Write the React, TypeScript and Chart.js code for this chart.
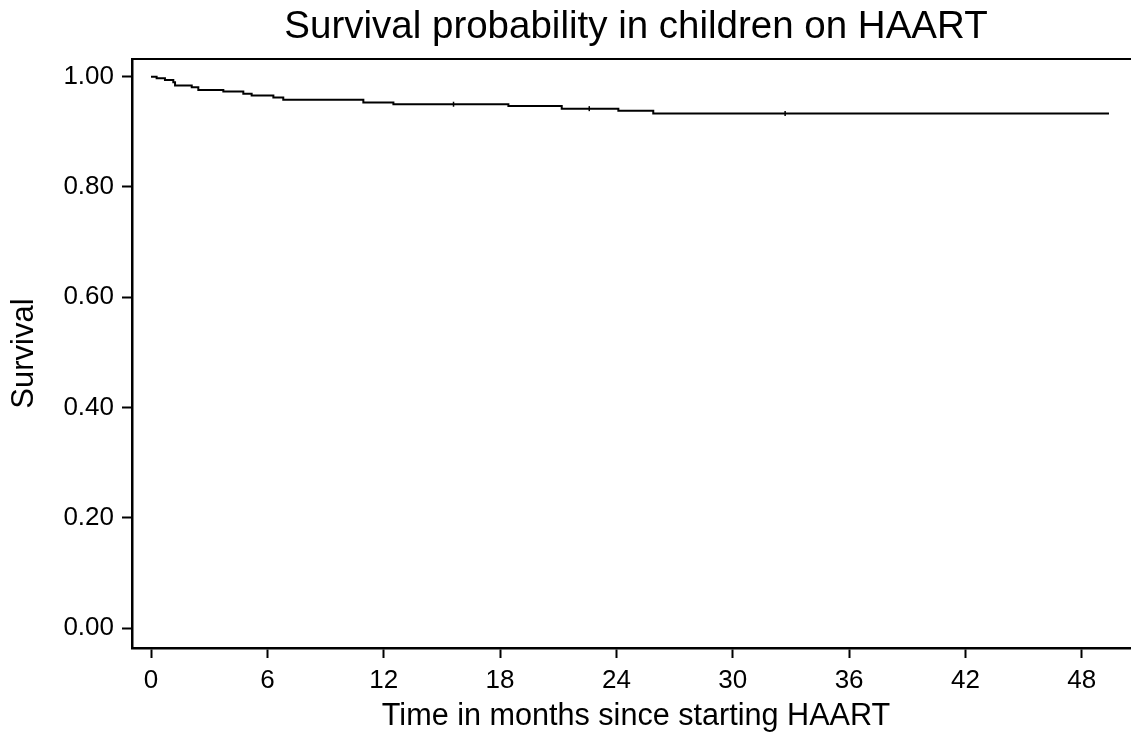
import React, { useEffect, useRef } from "react";
import { Chart, registerables } from "chart.js";

Chart.register(...registerables);

// Kaplan-Meier step points: time (months) and survival after the event at that time
const times = [0, 0.29, 0.72, 1.15, 1.24, 2.1, 2.44, 3.73, 4.76, 5.19, 6.31, 6.82, 10.95, 12.5, 18.43, 21.18, 24.1, 25.9, 49.4];
const survival = [1.0, 0.997, 0.994, 0.99, 0.984, 0.981, 0.976, 0.973, 0.969, 0.966, 0.962, 0.958, 0.953, 0.95, 0.947, 0.942, 0.938, 0.933, 0.933];

// Censoring marks
const censorTimes = [15.6, 22.6, 32.7];
const censorSurvival = [0.95, 0.942, 0.933];

const xTicks = [0, 6, 12, 18, 24, 30, 36, 42, 48];
const yTicks = [0, 0.2, 0.4, 0.6, 0.8, 1.0];

const titleText = "Survival probability in children on HAART";
const xTitle = "Time in months since starting HAART";
const yTitle = "Survival";

const X_MIN = -0.98;
const X_MAX = 51.0;
const Y_MIN = -0.0357;
const Y_MAX = 1.032;

export default function App() {
  const ref = useRef<HTMLCanvasElement | null>(null);

  useEffect(() => {
    document.body.style.margin = "0";
    const canvas = ref.current;
    if (!canvas) return;
    Chart.defaults.font.family = "'Liberation Sans', Arial, sans-serif";
    Chart.defaults.color = "#000";

    const noPadX = (s: any, h: number) => {
      s.height = h;
      s.paddingLeft = 0;
      s.paddingRight = 0;
    };

    const chart = new Chart(canvas, {
      type: "line",
      data: {
        datasets: [
          {
            type: "line",
            data: times.map((t, i) => ({ x: t, y: survival[i] })),
            stepped: true,
            borderColor: "#000",
            borderWidth: 2,
            pointRadius: 0,
            fill: false,
          },
          {
            type: "scatter",
            data: censorTimes.map((t, i) => ({ x: t, y: censorSurvival[i] })),
            pointStyle: "line",
            rotation: 90,
            pointRadius: 2.5,
            borderColor: "#000",
            borderWidth: 1.5,
          } as any,
        ],
      },
      options: {
        animation: false,
        responsive: false,
        maintainAspectRatio: false,
        layout: { autoPadding: false, padding: 0 },
        plugins: {
          legend: { display: false },
          tooltip: { enabled: false },
          title: {
            display: true,
            text: titleText,
            fullSize: false,
            color: "#000",
            font: { size: 38.5, weight: "normal" },
            padding: { top: 4, bottom: 8.8 },
          },
        },
        scales: {
          x: {
            type: "linear",
            position: "bottom",
            min: X_MIN,
            max: X_MAX,
            afterBuildTicks: (s: any) => {
              s.ticks = xTicks.map((v) => ({ value: v }));
            },
            afterFit: (s: any) => noPadX(s, 88),
            ticks: {
              color: "#000",
              font: { size: 26 },
              padding: 7,
              maxRotation: 0,
              autoSkip: false,
              callback: (v: any) => String(v),
            },
            grid: {
              display: true,
              drawOnChartArea: false,
              drawTicks: true,
              tickLength: 10,
              tickWidth: 2,
              tickColor: "#000",
            },
            border: { display: true, color: "#000", width: 2.5 },
            title: {
              display: true,
              text: xTitle,
              color: "#000",
              font: { size: 30.6 },
              padding: { top: 0, bottom: 1 },
            },
          },
          xTop: {
            type: "linear",
            position: "top",
            min: X_MIN,
            max: X_MAX,
            afterFit: (s: any) => noPadX(s, 0),
            ticks: { display: false },
            grid: { display: false, drawTicks: false },
            border: { display: true, color: "#000", width: 2 },
          },
          y: {
            type: "linear",
            position: "left",
            min: Y_MIN,
            max: Y_MAX,
            afterBuildTicks: (s: any) => {
              s.ticks = yTicks.map((v) => ({ value: v }));
            },
            afterFit: (s: any) => {
              s.width = 132;
              s.paddingTop = 0;
              s.paddingBottom = 0;
            },
            ticks: {
              color: "#000",
              font: { size: 26 },
              padding: 8,
              callback: (v: any) => Number(v).toFixed(2),
            },
            grid: {
              display: true,
              drawOnChartArea: false,
              drawTicks: true,
              tickLength: 10,
              tickWidth: 2,
              tickColor: "#000",
            },
            border: { display: true, color: "#000", width: 2.5 },
            title: {
              display: true,
              text: yTitle,
              color: "#000",
              font: { size: 31 },
              padding: { top: 6, bottom: 0 },
            },
          },
        },
      } as any,
    });

    return () => chart.destroy();
  }, []);

  return (
    <div style={{ width: 1131, height: 736, background: "#fff", overflow: "hidden" }}>
      <canvas ref={ref} width={1140} height={736} style={{ display: "block" }} />
    </div>
  );
}
